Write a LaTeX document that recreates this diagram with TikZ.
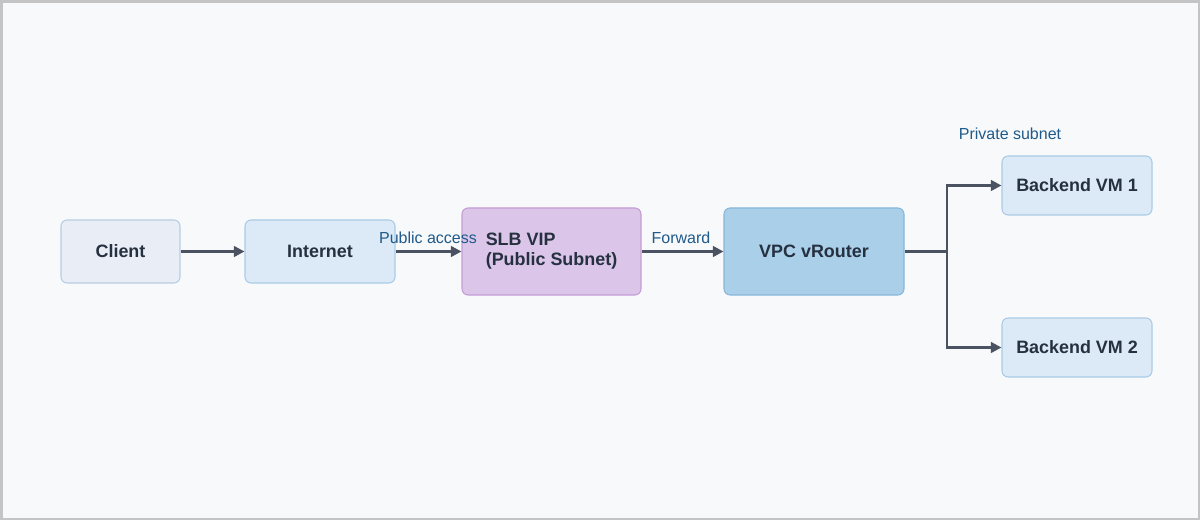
\documentclass[tikz,border=0pt]{standalone}
\usepackage{fontspec}
\setmainfont{Liberation Sans}
\usetikzlibrary{arrows.meta}

\definecolor{pagebg}{HTML}{F8F9FB}
\definecolor{frame}{HTML}{C4C4C4}
\definecolor{ink}{HTML}{253040}
\definecolor{wire}{HTML}{4B5261}
\definecolor{note}{HTML}{1F5A8A}
\definecolor{clientfill}{HTML}{E8EDF6}
\definecolor{clientline}{HTML}{B9CDE2}
\definecolor{netfill}{HTML}{DCEAF7}
\definecolor{netline}{HTML}{AACAE6}
\definecolor{slbfill}{HTML}{DBC5E8}
\definecolor{slbline}{HTML}{C49DD6}
\definecolor{vpcfill}{HTML}{A9CFE9}
\definecolor{vpcline}{HTML}{88B7DA}

\tikzset{
  box/.style={draw, line width=0.6pt, rounded corners=3.5pt, text=ink,
    font=\bfseries\fontsize{10.2}{11.4}\selectfont, inner sep=0pt},
  flow/.style={draw=wire, line width=1.4pt, -{Triangle[length=6pt,width=6pt]}},
  tag/.style={text=note, font=\fontsize{9.1}{10}\selectfont, inner sep=1pt}
}

\begin{document}
\begin{tikzpicture}
	\fill[frame] (0,0) rectangle (24,-10.4); % outer frame
	\fill[pagebg] (0.06,-0.06) rectangle (23.96,-10.36);
	\useasboundingbox (0,0) rectangle (24,-10.4);

	\node[box, fill=clientfill, draw=clientline, minimum width=2.38cm, minimum height=1.26cm] (client) at (2.41,-5.03) {Client};
	\node[box, fill=netfill, draw=netline, minimum width=3cm, minimum height=1.26cm] (internet) at (6.40,-5.03) {Internet};
	\node[box, fill=slbfill, draw=slbline, minimum width=3.58cm, minimum height=1.74cm, align=left] (slb) at (11.03,-5.03) {SLB VIP\\(Public Subnet)};
	\node[box, fill=vpcfill, draw=vpcline, minimum width=3.6cm, minimum height=1.74cm] (vrouter) at (16.28,-5.03) {VPC vRouter};
	\node[box, fill=netfill, draw=netline, minimum width=3cm, minimum height=1.18cm] (vm1) at (21.54,-3.71) {Backend VM 1};
	\node[box, fill=netfill, draw=netline, minimum width=3cm, minimum height=1.18cm] (vm2) at (21.54,-6.95) {Backend VM 2};

	\coordinate (fork) at (18.94,-5.03);

	\draw[flow] (client) -- (internet);
	\draw[flow] (internet) -- (slb);
	\draw[flow] (slb) -- (vrouter);
	\draw[draw=wire, line width=1.4pt] (vrouter) -- (fork);
	\draw[flow] (fork) |- (vm1);
	\draw[flow] (fork) |- (vm2);

	\node[tag] (lblpublic) at (8.56,-4.76) {Public access};
	\node[tag] (lblforward) at (13.62,-4.76) {Forward};
	\node[tag] (lblprivate) at (20.2,-2.68) {Private subnet};
\end{tikzpicture}
\end{document}
